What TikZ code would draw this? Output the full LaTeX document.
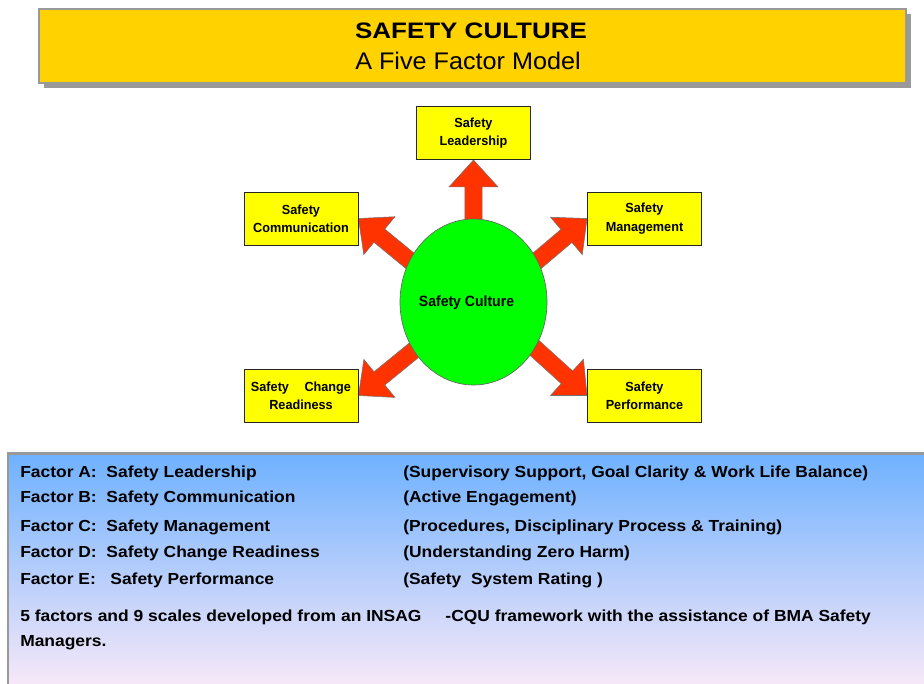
\documentclass[tikz,border=0pt]{standalone}
\usepackage{fontspec}
\setmainfont{Liberation Sans}
\newfontfamily\headboldfont{Liberation Sans}[FakeStretch=1.16]
\newfontfamily\headfont{Liberation Sans}[FakeStretch=1.05]
\newfontfamily\boxfont{Liberation Sans}[FakeStretch=0.96]
\newfontfamily\corefont{Liberation Sans}[FakeStretch=0.94]
\newfontfamily\panelfont{Liberation Sans}[FakeStretch=1.09]
\usetikzlibrary{shapes.geometric,calc,backgrounds}

\definecolor{titlegold}{HTML}{FFD200}
\definecolor{boxyellow}{HTML}{FFFF00}
\definecolor{coregreen}{HTML}{00FF00}
\definecolor{arrowred}{HTML}{FF3300}
\definecolor{framegray}{HTML}{999999}
\definecolor{paneltop}{HTML}{6EB1FF}
\definecolor{panelmid}{HTML}{B5D6F6}
\definecolor{panelbot}{HTML}{F7E8F8}

\tikzset{
  titlebox/.style={draw=framegray, line width=1.2pt, fill=titlegold,
    minimum width=650.25pt, minimum height=55.5pt, inner sep=0pt},
  factorbox/.style={draw=black!85, line width=0.7pt, fill=boxyellow,
    minimum width=85.5pt, minimum height=39.75pt, inner sep=1pt, align=center,
    font=\boxfont\bfseries\fontsize{9.9}{13.8}\selectfont},
  corenode/.style={ellipse, draw=black!60, line width=0.5pt, fill=coregreen,
    minimum width=110.25pt, minimum height=124.5pt, inner sep=0pt},
  coretext/.style={inner sep=0pt,
    font=\corefont\bfseries\fontsize{11.2}{13}\selectfont},
  blockarrowstyle/.style={draw=black!55, line width=0.4pt, fill=arrowred,
    line join=miter},
  paneltext/.style={anchor=base west, inner sep=0pt,
    font=\panelfont\bfseries\fontsize{12}{14}\selectfont},
}

% Block arrow from point #1 to tip #2 (shaft 12.8pt wide, head 36.8pt wide)
\newcommand\blockarrow[2]{%
  \draw[blockarrowstyle] let \p1=#1, \p2=#2,
    \n1={atan2(\y2-\y1,\x2-\x1)},
    \n2={veclen(\x2-\x1,\y2-\y1)-20.25} in
    ($(\p1)+(\n1:-6pt)+(\n1+90:6.4pt)$) --
    ($(\p1)+(\n1:\n2)+(\n1+90:6.4pt)$) --
    ($(\p1)+(\n1:\n2)+(\n1+90:18.4pt)$) --
    (\p2) --
    ($(\p1)+(\n1:\n2)+(\n1-90:18.4pt)$) --
    ($(\p1)+(\n1:\n2)+(\n1-90:6.4pt)$) --
    ($(\p1)+(\n1:-6pt)+(\n1-90:6.4pt)$) -- cycle;}

\begin{document}
\begin{tikzpicture}[x=0.75pt, y=-0.75pt]
\useasboundingbox (0,0) rectangle (924,684);

% heading banner with its drop shadow
\fill[framegray] (44,14) rectangle (911,88);
\node[titlebox] (banner) at (472.5,46) {};
\node[anchor=base, inner sep=0pt, font=\headboldfont\bfseries\fontsize{16.8}{20}\selectfont]
  (title) at (471,38.5) {SAFETY CULTURE};
\node[anchor=base, inner sep=0pt, font=\headfont\fontsize{18}{22}\selectfont]
  (subtitle) at (468,70) {A Five Factor Model};

% the model: core ellipse and five factor boxes
\node[corenode] (core) at (473.5,302) {};
\node[coretext, anchor=base] (corelabel) at (466.5,306) {Safety Culture};
\node[factorbox] (lead) at (473.5,133) {Safety\\Leadership};
\node[factorbox] (comm) at (301,218.5) {Safety\\Communication};
\node[factorbox] (mgmt) at (644.5,218.5) {Safety\\Management};
\node[factorbox] (ready) at (301,395.5) {Safety\hspace{9pt} Change\\Readiness};
\node[factorbox] (perf) at (644.5,395.5) {Safety\\Performance};

\begin{pgfonlayer}{background}
  \fill[white] (0,0) rectangle (924,684);
  \blockarrow{(core.90)}{(lead.south)}
  \blockarrow{(core.147)}{(comm.east)}
  \blockarrow{(core.33)}{(mgmt.west)}
  \blockarrow{(core.219)}{(ready.east)}
  \blockarrow{(core.323)}{(perf.west)}
\end{pgfonlayer}

% legend panel
\shade[top color=paneltop, middle color=panelmid, bottom color=panelbot]
  (8,453) rectangle (924,684);
\draw[framegray, line width=2.25pt] (7,453.5) -- (924,453.5);
\draw[framegray, line width=1.5pt] (8,452) -- (8,684);

\node[paneltext] (fa) at (20,477) {Factor A:\ \ Safety Leadership};
\node[paneltext] (fadesc) at (403,477) {(Supervisory Support, Goal Clarity \& Work Life Balance)};
\node[paneltext] (fb) at (20,502) {Factor B:\ \ Safety Communication};
\node[paneltext] (fbdesc) at (403,502) {(Active Engagement)};
\node[paneltext] (fc) at (20,531) {Factor C:\ \ Safety Management};
\node[paneltext] (fcdesc) at (403,531) {(Procedures, Disciplinary Process \& Training)};
\node[paneltext] (fd) at (20,557) {Factor D:\ \ Safety Change Readiness};
\node[paneltext] (fddesc) at (403,557) {(Understanding Zero Harm)};
\node[paneltext] (fe) at (20,584) {Factor E:\ \ \ Safety Performance};
\node[paneltext] (fedesc) at (403,584) {(Safety\ \ System Rating\ )};

\node[paneltext] (note1) at (20,621)
  {5 factors and 9 scales developed from an INSAG\hspace{18pt}-CQU framework with the assistance of BMA Safety};
\node[paneltext] (note2) at (20,646) {Managers.};
\end{tikzpicture}
\end{document}
